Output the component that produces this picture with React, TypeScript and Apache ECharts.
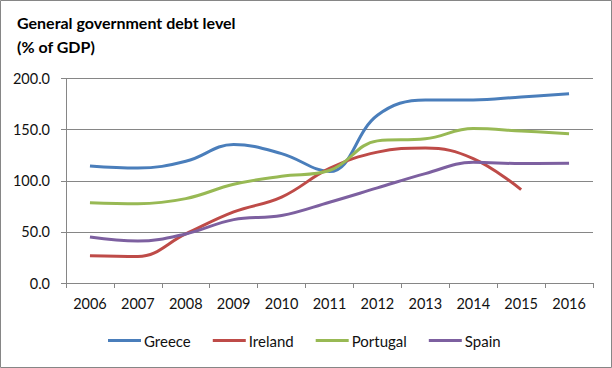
import React, { useEffect, useRef } from "react";
import * as echarts from "echarts";

const years = ["2006", "2007", "2008", "2009", "2010", "2011", "2012", "2013", "2014", "2015", "2016"];
const greece = [114.5, 112.5, 119, 135.5, 126.5, 109, 164, 179, 179, 182, 185];
const ireland = [26.7, 26, 48, 69.5, 84, 112, 128, 132, 121.7, 91.3, null];
const portugal = [78.6, 77.6, 82.5, 96.5, 104.4, 110, 139, 141, 151, 148.7, 146];
const spain = [45, 41, 48, 62, 66, 79, 93, 107, 118, 116.8, 117];
const yTicks = [0, 50, 100, 150, 200];

const FONT = "Lato";

export default function App() {
  const ref = useRef<HTMLDivElement>(null);
  useEffect(() => {
    document.body.style.margin = "0";
    const chart = echarts.init(ref.current!, null, { renderer: "svg" });
    const mk = (name: string, data: (number | null)[], color: string) => ({
      name,
      type: "line",
      data,
      smooth: 0.4,
      symbol: "none",
      lineStyle: { width: 3, color },
      itemStyle: { color },
    });
    chart.setOption({
      animation: false,
      textStyle: { fontFamily: FONT },
      graphic: [
        {
          type: "rect",
          shape: { x: 0.5, y: 0.5, width: 611, height: 367 },
          style: { fill: "none", stroke: "#868686", lineWidth: 1 },
          silent: true,
        },
        {
          type: "text",
          left: 17,
          top: 10,
          style: {
            text: "General government debt level\n(% of GDP)",
            font: `bold 16px ${FONT}`,
            fill: "#000",
            lineHeight: 24,
          },
        },
      ],
      grid: { left: 66, right: 19, top: 78.5, bottom: 85, containLabel: false },
      legend: {
        bottom: 15,
        left: 103,
        icon: "rect",
        itemWidth: 33,
        itemHeight: 3,
        itemGap: 22,
        textStyle: { fontSize: 15, color: "#111", fontFamily: FONT, padding: [0, 0, 0, -2] },
        data: ["Greece", "Ireland", "Portugal", "Spain"],
      },
      xAxis: {
        type: "category",
        data: years,
        boundaryGap: true,
        axisLine: { lineStyle: { color: "#868686", width: 1 } },
        axisTick: { show: true, length: 5, alignWithLabel: false, lineStyle: { color: "#868686" } },
        axisLabel: { fontSize: 14.5, color: "#111", margin: 13, fontFamily: FONT },
      },
      yAxis: {
        type: "value",
        min: yTicks[0],
        max: yTicks[yTicks.length - 1],
        interval: 50,
        axisLine: { show: true, lineStyle: { color: "#868686" } },
        axisTick: { show: true, length: 5, lineStyle: { color: "#868686" } },
        splitLine: { lineStyle: { color: "#868686", width: 1 } },
        axisLabel: {
          fontSize: 14.5,
          color: "#111",
          margin: 16,
          fontFamily: FONT,
          formatter: (v: number) => v.toFixed(1),
        },
      },
      series: [
        mk("Greece", greece, "#4A7EBB"),
        mk("Ireland", ireland, "#BE4B48"),
        mk("Portugal", portugal, "#98B954"),
        mk("Spain", spain, "#7D60A0"),
      ],
    });
    return () => chart.dispose();
  }, []);
  return <div ref={ref} style={{ width: 612, height: 368 }} />;
}
